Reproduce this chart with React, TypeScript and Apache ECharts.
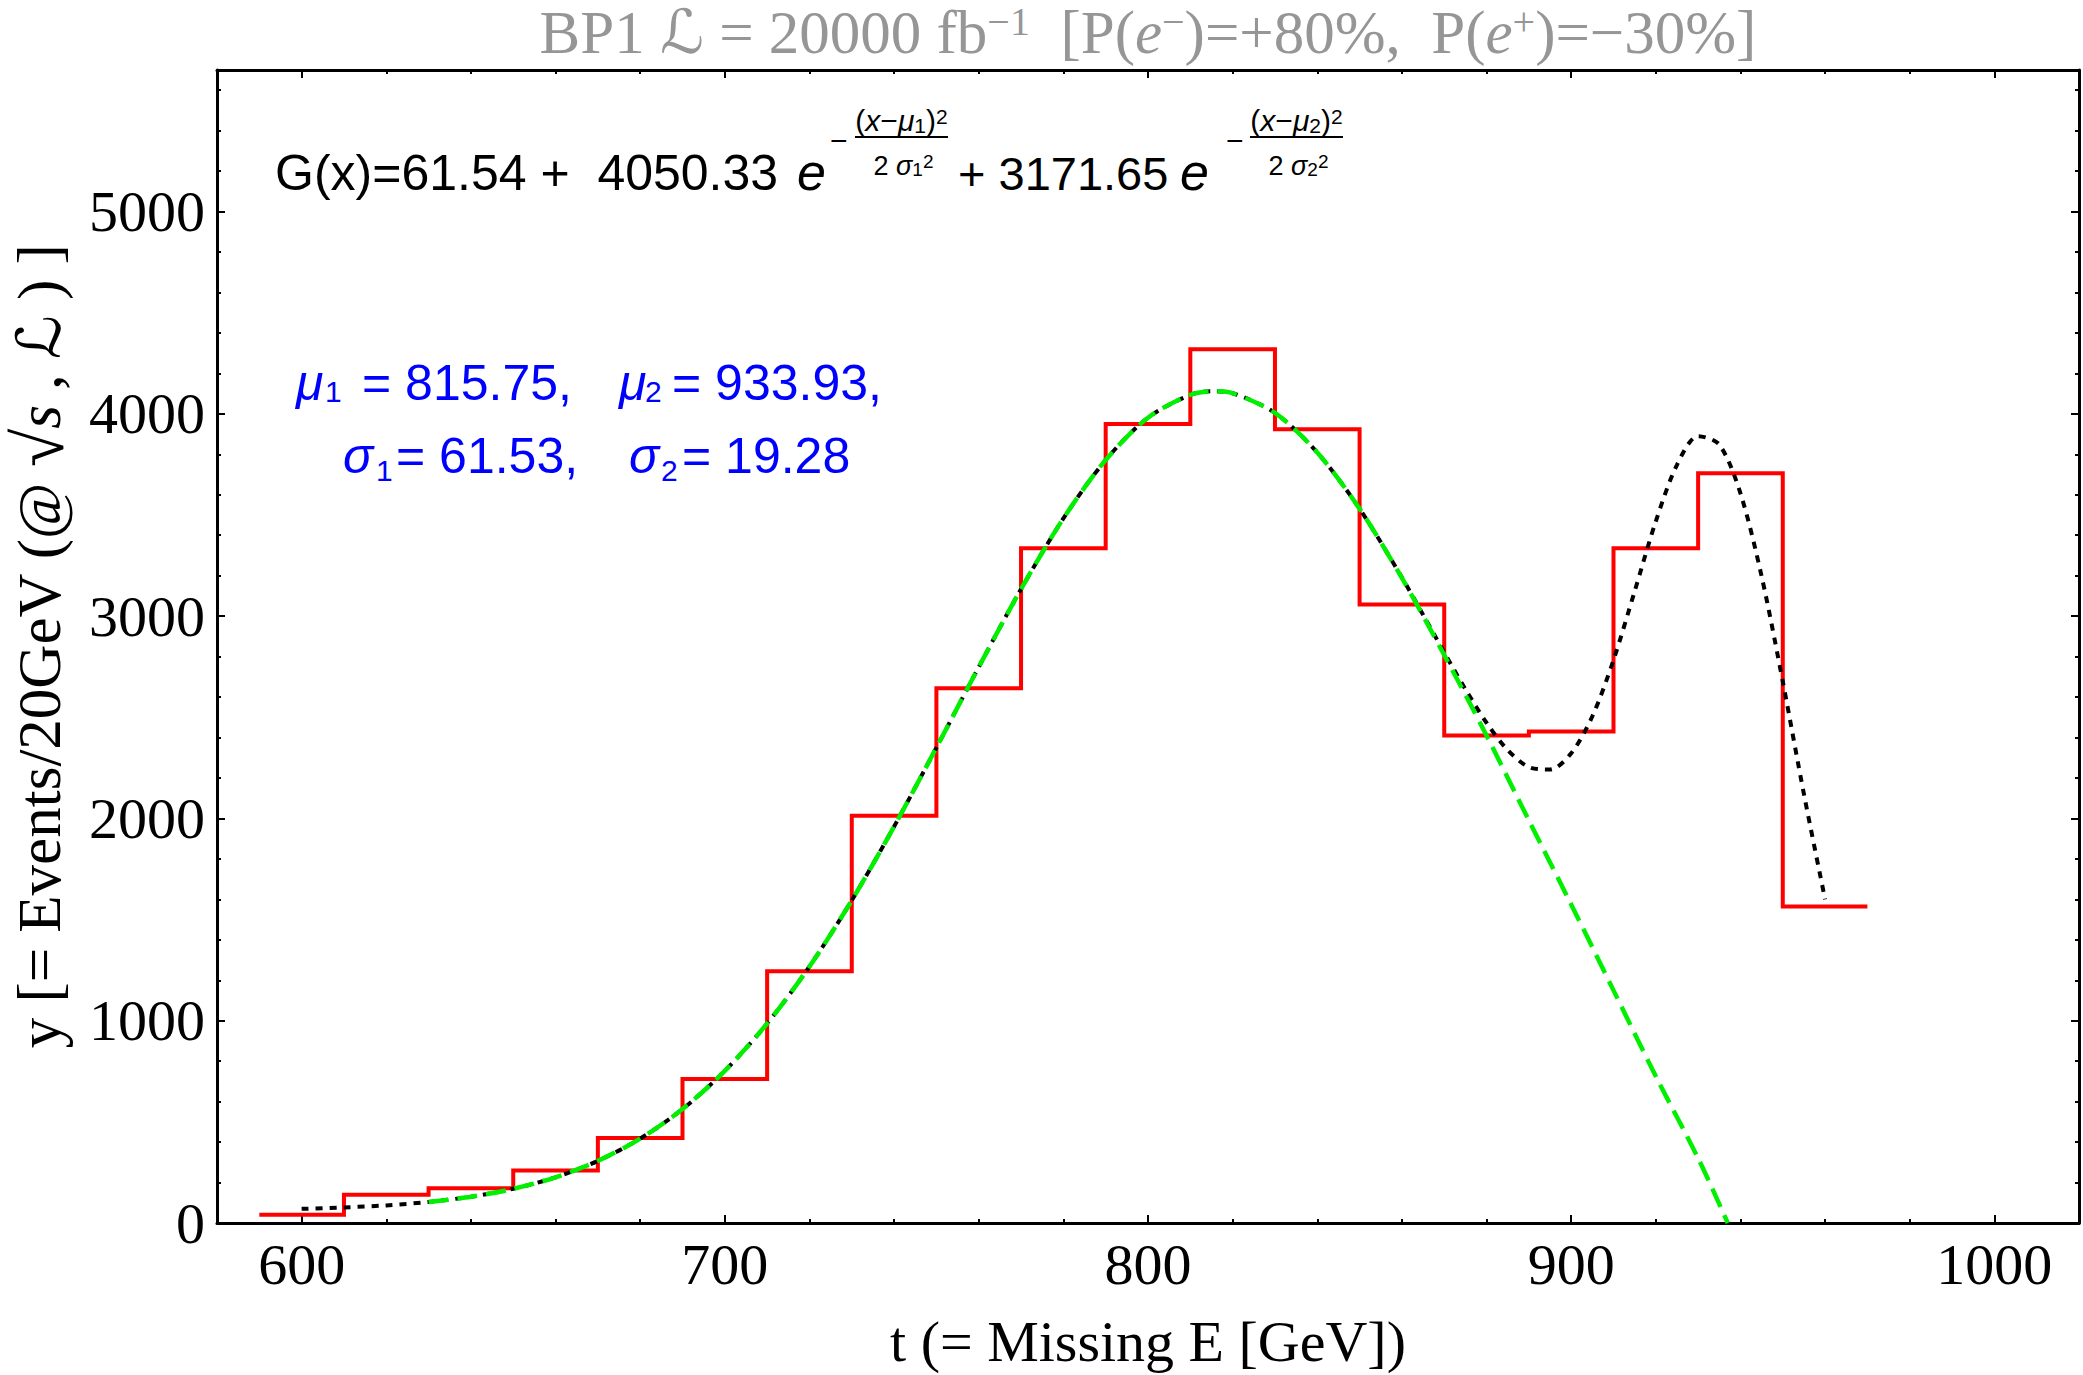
import React, { useEffect, useRef } from "react";
import * as echarts from "echarts";

// ---------- data ----------
const binEdges = [590, 610, 630, 650, 670, 690, 710, 730, 750, 770, 790, 810, 830, 850, 870, 890, 910, 930, 950, 970];
const binCounts = [41, 140, 172, 259, 420, 712, 1244, 2013, 2643, 3336, 3950, 4320, 3924, 3058, 2410, 2430, 3336, 3706, 1565];

// black dotted: full fit G(x)
const fitX = [600, 610, 620, 630, 640, 650, 660, 670, 680, 690, 700, 710, 720, 730, 740, 750, 760, 770, 780, 790, 800, 810, 815, 820, 830, 840, 850, 860, 865, 870, 875, 880, 885, 890, 895, 900, 905, 910, 915, 920, 925, 930, 935, 940, 945, 950, 955, 960];
const fitY = [70, 77, 87, 104, 130, 169, 226, 307, 417, 563, 752, 986, 1268, 1595, 1960, 2350, 2748, 3134, 3483, 3772, 3981, 4094, 4112, 4102, 4005, 3809, 3531, 3191, 3007, 2821, 2639, 2473, 2338, 2254, 2242, 2322, 2505, 2783, 3123, 3469, 3748, 3890, 3848, 3607, 3197, 2677, 2120, 1600];

// green dashed: single-peak curve
const singleX = [630, 640, 650, 660, 670, 680, 690, 700, 710, 720, 730, 740, 750, 760, 770, 780, 790, 800, 810, 816, 820, 830, 840, 850, 860, 870, 880, 890, 900, 910, 920, 930, 937];
const singleY = [104, 130, 169, 226, 307, 417, 563, 752, 986, 1268, 1595, 1960, 2350, 2748, 3134, 3483, 3772, 3981, 4094, 4112, 4102, 4005, 3809, 3531, 3189, 2808, 2410, 1990, 1575, 1150, 725, 320, 0];

const xMajorTicks = [600, 700, 800, 900, 1000];
const xMinorTicks = [620, 640, 660, 680, 720, 740, 760, 780, 820, 840, 860, 880, 920, 940, 960, 980];
const yMajorTicks = [0, 1000, 2000, 3000, 4000, 5000];
const yMinorTicks = [200, 400, 600, 800, 1200, 1400, 1600, 1800, 2200, 2400, 2600, 2800, 3200, 3400, 3600, 3800, 4200, 4400, 4600, 4800, 5200, 5400, 5600];

const X_MIN = 580;
const X_MAX = 1020;
const Y_MIN = 0;
const Y_MAX = 5700;

// ---------- styling ----------
const SERIF = "'Liberation Serif', 'Times New Roman', 'DejaVu Serif', 'DejaVu Sans', serif";
const SANS = "'Liberation Sans', Arial, Helvetica, 'DejaVu Sans', sans-serif";
const W = 2083;
const H = 1375;
const GRID = { left: 217, right: 4, top: 70, bottom: 152 };

function valueAxis(position: string, min: number, max: number, ticks: number[], len: number, line: boolean, labels: boolean, extra: any = {}) {
  return {
    type: "value",
    position,
    min,
    max,
    scale: false,
    splitLine: { show: false },
    axisLine: { show: line, onZero: false, lineStyle: { color: "#000", width: 3 } },
    axisTick: { show: true, inside: true, length: len, customValues: ticks, lineStyle: { color: "#000", width: 2 } },
    minorTick: { show: false },
    axisLabel: labels
      ? {
          show: true,
          customValues: ticks,
          color: "#000",
          fontFamily: SERIF,
          fontSize: 58,
          lineHeight: 58,
          margin: 12,
          formatter: (v: number) => String(v),
        }
      : { show: false, customValues: ticks },
    ...extra,
  };
}

function txt(x: number, y: number, text: string, size: number, opts: any = {}) {
  return {
    type: "text",
    x,
    y,
    silent: true,
    z: 100,
    style: {
      text,
      fontFamily: opts.family || SANS,
      fontSize: size,
      fontStyle: opts.italic ? "italic" : "normal",
      fill: opts.fill || "#000",
      align: opts.align || "left",
      verticalAlign: "middle",
      textAlign: opts.align || "left",
      textVerticalAlign: "middle",
      rich: opts.rich,
    },
  };
}

function hline(x1: number, x2: number, y: number) {
  return { type: "line", silent: true, z: 100, shape: { x1, y1: y, x2, y2: y }, style: { stroke: "#000", lineWidth: 2 } };
}

// baseline -> middle y
const mid = (baseline: number, size: number, serif = false) => baseline - (serif ? 0.3375 : 0.3465) * size;

function mathRich(size: number, small: number) {
  return {
    p: { fontFamily: SANS, fontSize: size, lineHeight: size, fill: "#000" },
    i: { fontFamily: SANS, fontSize: size, lineHeight: size, fontStyle: "italic", fill: "#000" },
    sb: { fontFamily: SANS, fontSize: small, lineHeight: small, fill: "#000", verticalAlign: "bottom" },
    sp: { fontFamily: SANS, fontSize: small, lineHeight: small, fill: "#000", verticalAlign: "top" },
  };
}

function fractionExp(cx: number, x1: number, x2: number, idx: string) {
  return [
    txt(cx, mid(131, 30), `{p|(}{i|x}{p|−}{i|μ}{sb|${idx}}{p|)}{sp|2}`, 30, { align: "center", rich: mathRich(30, 21) }),
    hline(x1, x2, 137),
    txt(cx + 2, mid(175, 27), `{p|2 }{i|σ}{sb|${idx}}{sp|2}`, 27, { align: "center", rich: mathRich(27, 19) }),
  ];
}

const TITLE_FILL = "#969696";
const titleRich = {
  n: { fontFamily: SERIF, fontSize: 61, lineHeight: 61, fill: TITLE_FILL },
  i: { fontFamily: SERIF, fontSize: 61, lineHeight: 61, fontStyle: "italic", fill: TITLE_FILL },
  s: { fontFamily: SERIF, fontSize: 40, lineHeight: 34, fill: TITLE_FILL, verticalAlign: "top" },
};

const blue = "#0000ff";

const graphics: any[] = [
  // title
  txt(1148, mid(53, 61, true), "{n|BP1 ℒ = 20000 fb}{s|−1}{n|  [P(}{i|e}{s|−}{n|)=+80%,  P(}{i|e}{s|+}{n|)=−30%]}", 61, {
    align: "center",
    family: SERIF,
    fill: TITLE_FILL,
    rich: titleRich,
  }),
  // formula
  txt(275, mid(190, 50), "G(x)=61.54 +  4050.33", 50),
  txt(797, mid(190, 52), "e", 52, { italic: true }),
  txt(830, 140, "−", 30),
  ...fractionExp(901.5, 855, 948, "1"),
  txt(958, mid(190, 47), "+ 3171.65", 47),
  txt(1180, mid(190, 52), "e", 52, { italic: true }),
  txt(1226, 140, "−", 30),
  ...fractionExp(1296.5, 1250, 1343, "2"),
  // blue parameter text
  txt(296, mid(400, 50), "μ", 50, { italic: true, fill: blue }),
  txt(325, mid(402, 30), "1", 30, { fill: blue }),
  txt(362, mid(400, 50), "= 815.75,", 50, { fill: blue }),
  txt(619, mid(400, 50), "μ", 50, { italic: true, fill: blue }),
  txt(645, mid(402, 30), "2", 30, { fill: blue }),
  txt(672, mid(400, 50), "= 933.93,", 50, { fill: blue }),
  txt(343, mid(473, 50), "σ", 50, { italic: true, fill: blue }),
  txt(376, mid(481, 30), "1", 30, { fill: blue }),
  txt(396, mid(473, 50), "= 61.53,", 50, { fill: blue }),
  txt(629, mid(473, 50), "σ", 50, { italic: true, fill: blue }),
  txt(661, mid(481, 30), "2", 30, { fill: blue }),
  txt(682, mid(473, 50), "= 19.28", 50, { fill: blue }),
];

function buildOption() {
  const histData: number[][] = binCounts.map((v, i) => [binEdges[i], v]);
  histData.push([binEdges[binEdges.length - 1], binCounts[binCounts.length - 1]]);
  const fitData = fitX.map((x, i) => [x, fitY[i]]);
  const singleData = singleX.map((x, i) => [x, singleY[i]]);

  return {
    animation: false,
    backgroundColor: "#fff",
    grid: { ...GRID, containLabel: false, outerBoundsMode: "none" },
    xAxis: [
      valueAxis("bottom", X_MIN, X_MAX, xMajorTicks, 8, true, true, {
        name: "t (= Missing E [GeV])",
        nameLocation: "middle",
        nameGap: 89,
        nameTextStyle: { fontFamily: SERIF, fontSize: 58, lineHeight: 58, color: "#000" },
      }),
      valueAxis("bottom", X_MIN, X_MAX, xMinorTicks, 4, false, false),
      valueAxis("top", X_MIN, X_MAX, xMajorTicks, 8, true, false),
      valueAxis("top", X_MIN, X_MAX, xMinorTicks, 4, false, false),
    ],
    yAxis: [
      valueAxis("left", Y_MIN, Y_MAX, yMajorTicks, 8, true, true, {
        name: "{n|y [= Events/20GeV (@ }{r|√}{i|s}{n| , ℒ ) ]}",
        nameLocation: "middle",
        nameRotate: 90,
        nameGap: 147,
        nameTextStyle: {
          color: "#000",
          fontFamily: SERIF,
          fontSize: 61,
          lineHeight: 61,
          rich: {
            n: { fontFamily: SERIF, fontSize: 61, lineHeight: 61, color: "#000" },
            r: { fontFamily: SERIF, fontSize: 70, lineHeight: 61, color: "#000" },
            i: { fontFamily: SERIF, fontSize: 61, lineHeight: 61, fontStyle: "italic", color: "#000" },
          },
        },
      }),
      valueAxis("left", Y_MIN, Y_MAX, yMinorTicks, 4, false, false),
      valueAxis("right", Y_MIN, Y_MAX, yMajorTicks, 8, true, false),
      valueAxis("right", Y_MIN, Y_MAX, yMinorTicks, 4, false, false),
    ],
    series: [
      {
        type: "line",
        name: "histogram",
        data: histData,
        step: "end",
        symbol: "none",
        z: 2,
        lineStyle: { color: "#ff0000", width: 4, join: "miter" },
      },
      {
        type: "line",
        name: "G(x)",
        data: fitData,
        smooth: 0.3,
        symbol: "none",
        z: 3,
        lineStyle: { color: "#000", width: 4, type: [7, 7] },
      },
      {
        type: "line",
        name: "single",
        data: singleData,
        smooth: 0.3,
        symbol: "none",
        z: 4,
        lineStyle: { color: "#00f000", width: 4.5, type: [20, 9] },
      },
    ],
    graphic: graphics,
  };
}

export default function App() {
  const ref = useRef<HTMLDivElement>(null);
  useEffect(() => {
    if (!ref.current) return;
    const chart = echarts.init(ref.current, undefined, { renderer: "svg", width: W, height: H });
    chart.setOption(buildOption() as any);
    return () => chart.dispose();
  }, []);
  return (
    <div
      ref={ref}
      style={{ position: "fixed", left: 0, top: 0, width: W, height: H, background: "#fff" }}
    />
  );
}
